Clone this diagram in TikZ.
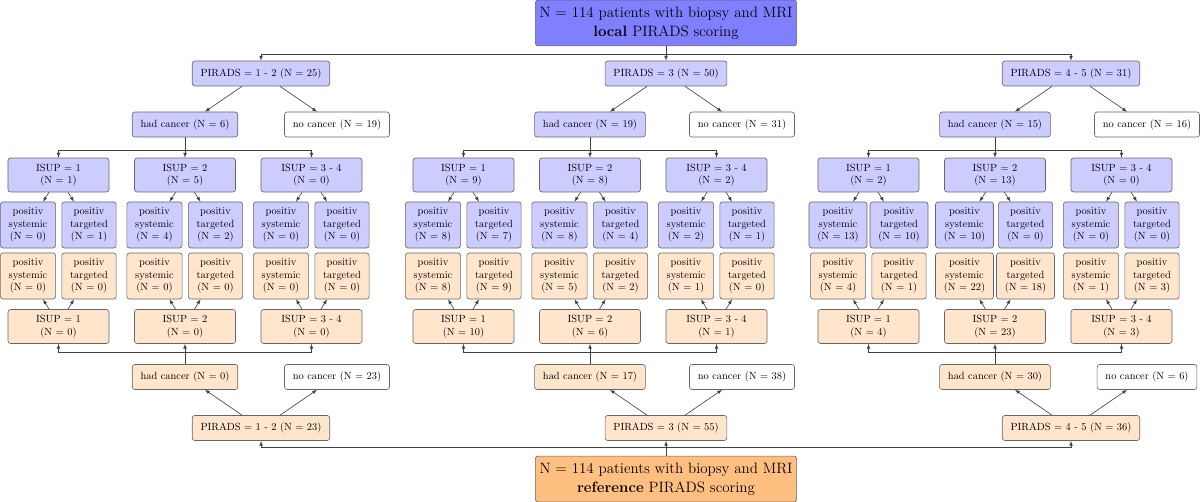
\documentclass[tikz,border=0pt]{standalone}
\usetikzlibrary{positioning,arrows}

\tikzset{
 box/.style={draw=black!60, line width=0.6pt, rounded corners=2.5pt, align=center, inner xsep=8pt, inner ysep=0pt, minimum height=24pt},
 loc/.style={box, fill=blue!20},
 refr/.style={box, fill=orange!20},
 none/.style={box, fill=white},
 isupbox/.style={minimum width=97pt, minimum height=32.6pt},
 posbox/.style={minimum height=44.2pt},
 main/.style={box, font=\Large, minimum width=250pt, minimum height=44pt, inner xsep=4pt},
 conn/.style={draw=black!75, line width=0.6pt, -latex},
}

\begin{document}
\begin{tikzpicture}[x=0.96pt,y=-0.96pt]
\useasboundingbox (0,0) rectangle (1200,502);

% the two roots
\node[main, fill=blue!50] (T) at (666,23) {N = 114 patients with biopsy and MRI\\\textbf{local} PIRADS scoring};
\node[main, fill=orange!50] (B) at (666,479) {N = 114 patients with biopsy and MRI\\\textbf{reference} PIRADS scoring};
\coordinate (JT) at (666,54);
\coordinate (JB) at (666,447);

% PIRADS groups, local on top, reference below
\foreach \grp/\x/\pir/\pl/\hl/\nl/\pr/\hr/\nr in {1/261/{1 - 2}/25/6/19/23/0/23, 2/666/3/50/19/31/55/17/38, 3/1071/{4 - 5}/31/15/16/36/30/6}{
 \node[loc] (P\grp) at (\x,73.5) {PIRADS = \pir{} (N = \pl)};
 \node[loc] (H\grp) at ({\x-76},124.5) {had cancer (N = \hl)};
 \node[none] (N\grp) at ({\x+76},124.5) {no cancer (N = \nl)};
 \node[refr] (RP\grp) at (\x,428) {PIRADS = \pir{} (N = \pr)};
 \node[refr] (RH\grp) at ({\x-76},377) {had cancer (N = \hr)};
 \node[none] (RN\grp) at ({\x+76},377) {no cancer (N = \nr)};
 \coordinate (JH\grp) at ({\x-76},150);
 \coordinate (JR\grp) at ({\x-76},352);
 \draw[conn] ([xshift=-18.2pt]P\grp.south) -- ([xshift=19.2pt]H\grp.north);
 \draw[conn] ([xshift=18.2pt]P\grp.south) -- ([xshift=-19.2pt]N\grp.north);
 \draw[conn] ([xshift=-18.2pt]RP\grp.north) -- ([xshift=19.2pt]RH\grp.south);
 \draw[conn] ([xshift=18.2pt]RP\grp.north) -- ([xshift=-19.2pt]RN\grp.south);
}

% ISUP boxes with their biopsies
\foreach \grp/\k/\x/\isup/\la/\ls/\lt/\rs/\rt/\ra in {
 1/1/58.5/1/1/0/1/0/0/0,
 1/2/185/2/5/4/2/0/0/0,
 1/3/311.5/{3 - 4}/0/0/0/0/0/0,
 2/1/463.5/1/9/8/7/8/9/10,
 2/2/590/2/8/8/4/5/2/6,
 2/3/716.5/{3 - 4}/2/2/1/1/0/1,
 3/1/868.5/1/2/13/10/4/1/4,
 3/2/995/2/13/10/0/22/18/23,
 3/3/1121.5/{3 - 4}/0/0/0/1/3/3}{
 \node[loc,isupbox] (I\grp\k) at (\x,175) {ISUP = \isup\\(N = \la)};
 \node[loc,posbox] (S\grp\k) at ({\x-30.5},225) {positiv\\systemic\\(N = \ls)};
 \node[loc,posbox] (G\grp\k) at ({\x+30.5},225) {positiv\\targeted\\(N = \lt)};
 \node[refr,posbox] (RS\grp\k) at ({\x-30.5},276) {positiv\\systemic\\(N = \rs)};
 \node[refr,posbox] (RG\grp\k) at ({\x+30.5},276) {positiv\\targeted\\(N = \rt)};
 \node[refr,isupbox] (RI\grp\k) at (\x,326.5) {ISUP = \isup\\(N = \ra)};
 \draw[conn] ([xshift=-9.1pt]I\grp\k.south) -- ([xshift=14.4pt]S\grp\k.north);
 \draw[conn] ([xshift=9.1pt]I\grp\k.south) -- ([xshift=-14.4pt]G\grp\k.north);
 \draw[conn] ([xshift=-9.1pt]RI\grp\k.north) -- ([xshift=14.4pt]RS\grp\k.south);
 \draw[conn] ([xshift=9.1pt]RI\grp\k.north) -- ([xshift=-14.4pt]RG\grp\k.south);
}

% branching lines
\draw[conn] (T) -- (P2);
\draw[conn] (JT) -| (P1);
\draw[conn] (JT) -| (P3);
\draw[conn] (B) -- (RP2);
\draw[conn] (JB) -| (RP1);
\draw[conn] (JB) -| (RP3);
\foreach \grp in {1,2,3}{
 \draw[conn] (H\grp) -- (I\grp2);
 \draw[conn] (JH\grp) -| (I\grp1);
 \draw[conn] (JH\grp) -| (I\grp3);
 \draw[conn] (RH\grp) -- (RI\grp2);
 \draw[conn] (JR\grp) -| (RI\grp1);
 \draw[conn] (JR\grp) -| (RI\grp3);
}

\end{tikzpicture}
\end{document}
